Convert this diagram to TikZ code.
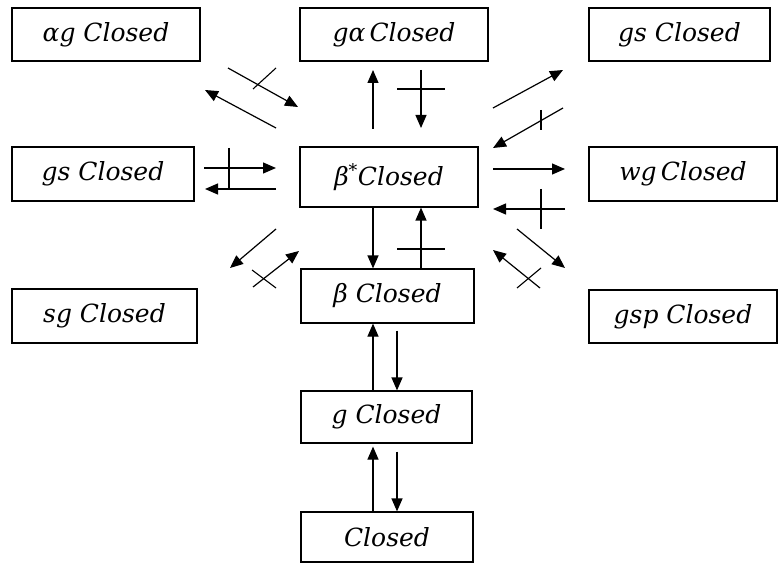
\documentclass[tikz,border=0pt]{standalone}
\usepackage{fontspec}
\setmainfont{DejaVu Serif}
\usetikzlibrary{arrows.meta}
\begin{document}
\begin{tikzpicture}[x=1pt,y=-1pt,
  box/.style={draw, line width=1.2pt, inner sep=0pt, font=\itshape\fontsize{25}{28}\selectfont},
  arr/.style={line width=1.2pt, -{Triangle[length=13pt,width=11pt]}},
  tick/.style={line width=1.1pt}]
\useasboundingbox (0,0) rectangle (779,564);
% boxes
\node[box, minimum width=188pt, minimum height=53pt] (ag) at (106,34.5) {αg Closed};
\node[box, minimum width=188pt, minimum height=53pt] (ga) at (394,34.5) {gα\,Closed};
\node[box, minimum width=181pt, minimum height=53pt] (gsT) at (679.5,34.5) {gs Closed};
\node[box, minimum width=182pt, minimum height=54pt] (gsL) at (103,174) {gs Closed};
\node[box, minimum width=178pt, minimum height=60pt] (bs) at (389,177) {β\textsuperscript{*}Closed};
\node[box, minimum width=188pt, minimum height=54pt] (wg) at (683,174) {wg\,Closed};
\node[box, minimum width=173pt, minimum height=54pt] (b) at (387.5,296) {β Closed};
\node[box, minimum width=185pt, minimum height=54pt] (sg) at (104.5,316) {sg Closed};
\node[box, minimum width=188pt, minimum height=53pt] (gsp) at (683,316.5) {gsp Closed};
\node[box, minimum width=171pt, minimum height=52pt] (g) at (386.5,417) {g Closed};
\node[box, minimum width=172pt, minimum height=50pt] (c) at (387,537) {Closed};
% columns
\coordinate (xL) at (373,0);
\coordinate (xR) at (397,0);
\coordinate (xU) at (421,0);
% arrow end points
\coordinate (a1s) at (228,68);  \coordinate (a1e) at (298,107);
\coordinate (t1s) at (276,68);  \coordinate (t1e) at (253,89);
\coordinate (a2s) at (276,128); \coordinate (a2e) at (205,90);
\coordinate (a3s) at (373,129); \coordinate (a3e) at (373,70);
\coordinate (a4s) at (421,70);  \coordinate (a4e) at (421,128);
\coordinate (t4s) at (397,89);  \coordinate (t4e) at (445,89);
\coordinate (a5s) at (493,108); \coordinate (a5e) at (563,70);
\coordinate (a6s) at (563,108); \coordinate (a6e) at (493,148);
\coordinate (t6s) at (541,110); \coordinate (t6e) at (541,130);
\coordinate (a7s) at (204,168); \coordinate (a7e) at (276,168);
\coordinate (a8s) at (276,189); \coordinate (a8e) at (205,189);
\coordinate (t7s) at (229,148); \coordinate (t7e) at (229,190);
\coordinate (a9s) at (493,169); \coordinate (a9e) at (565,169);
\coordinate (a10s) at (565,209); \coordinate (a10e) at (493,209);
\coordinate (t9s) at (541,189); \coordinate (t9e) at (541,229);
\coordinate (tbs) at (397,249); \coordinate (tbe) at (445,249);
\coordinate (a11s) at (276,229); \coordinate (a11e) at (230,268);
\coordinate (a12s) at (253,287); \coordinate (a12e) at (299,251);
\coordinate (t12s) at (252,270); \coordinate (t12e) at (276,288);
\coordinate (a13s) at (517,229); \coordinate (a13e) at (565,268);
\coordinate (a14s) at (540,288); \coordinate (a14e) at (493,250);
\coordinate (t14s) at (517,288); \coordinate (t14e) at (541,268);
% top-left
\draw[arr] (a1s) -- (a1e);
\draw[tick] (t1s) -- (t1e);
\draw[arr] (a2s) -- (a2e);
% top
\draw[arr] (a3s) -- (a3e);
\draw[arr] (a4s) -- (a4e);
\draw[tick] (t4s) -- (t4e);
% top-right
\draw[arr] (a5s) -- (a5e);
\draw[arr] (a6s) -- (a6e);
\draw[tick] (t6s) -- (t6e);
% left
\draw[arr] (a7s) -- (a7e);
\draw[arr] (a8s) -- (a8e);
\draw[tick] (t7s) -- (t7e);
% right
\draw[arr] (a9s) -- (a9e);
\draw[arr] (a10s) -- (a10e);
\draw[tick] (t9s) -- (t9e);
% beta* <-> beta
\draw[arr] (bs.south -| xL) -- (b.north -| xL);
\draw[arr] (b.north -| xU) -- (bs.south -| xU);
\draw[tick] (tbs) -- (tbe);
% lower-left
\draw[arr] (a11s) -- (a11e);
\draw[arr] (a12s) -- (a12e);
\draw[tick] (t12s) -- (t12e);
% lower-right
\draw[arr] (a13s) -- (a13e);
\draw[arr] (a14s) -- (a14e);
\draw[tick] (t14s) -- (t14e);
% beta <-> g
\draw[arr] (g.north -| xL) -- (b.south -| xL);
\draw[arr] ([yshift=-7pt]b.south -| xR) -- (g.north -| xR);
% g <-> closed
\draw[arr] (c.north -| xL) -- ([yshift=-3pt]g.south -| xL);
\draw[arr] ([yshift=-8pt]g.south -| xR) -- (c.north -| xR);
\end{tikzpicture}
\end{document}
